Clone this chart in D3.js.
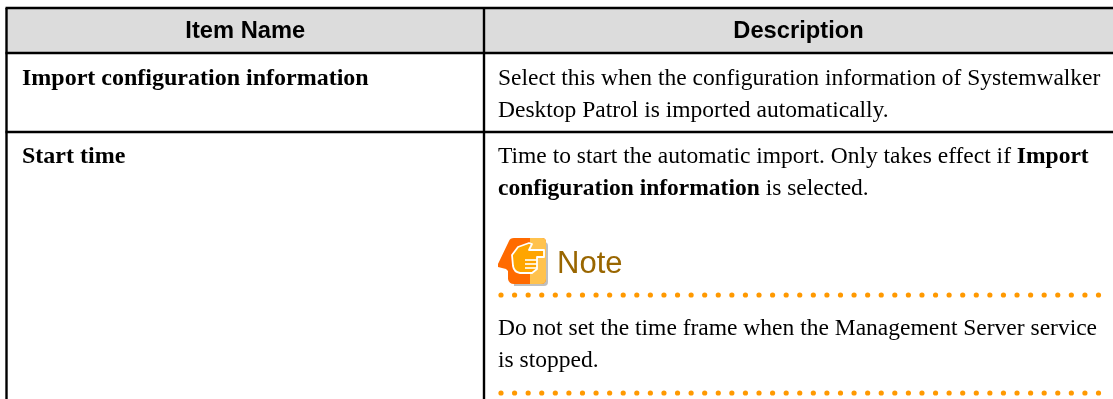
<!DOCTYPE html>
<html><head><meta charset="utf-8">
<script src="https://cdn.jsdelivr.net/npm/d3@7/dist/d3.min.js"></script>
<style>html,body{margin:0;padding:0;background:#fff}svg{display:block;filter:blur(0.35px)}</style>
</head><body><svg id="c" width="1113" height="399"></svg>
<script>
const headers = ["Item Name","Description"];
const rowNames = ["Import configuration information","Start time"];
const rowBaselines = [85,163];
const descLines = [
 {y:85,parts:[["Select this when the configuration information of Systemwalker",400]]},
 {y:117,parts:[["Desktop Patrol is imported automatically.",400]]},
 {y:163,parts:[["Time to start the automatic import. Only takes effect if ",400],["Import",700]]},
 {y:195,parts:[["configuration information",700],[" is selected.",400]]},
 {y:335,parts:[["Do not set the time frame when the Management Server service",400]]},
 {y:367,parts:[["is stopped.",400]]}
];
const noteLabel = "Note";
const rowLines = [8,53,132];
const colLines = [6.5,484,1113];
const dotRows = [295,393];
const dotCount = 45;
const svg = d3.select("#c");
const serif = "'Liberation Serif',serif", sans = "'Liberation Sans',sans-serif";
const x = d3.scaleLinear().domain([0,dotCount-1]).range([501,1098.5]);
svg.append("rect").attr("x",colLines[0]).attr("y",rowLines[0]).attr("width",1113-colLines[0]).attr("height",rowLines[1]-rowLines[0]).attr("fill","#dcdcdc");
svg.append("g").selectAll("line").data(rowLines).join("line").attr("x1",colLines[0]-1).attr("x2",1113).attr("y1",d=>d).attr("y2",d=>d).attr("stroke","#000").attr("stroke-width",2.4);
svg.append("g").selectAll("line").data(colLines.slice(0,2)).join("line").attr("x1",d=>d).attr("x2",d=>d).attr("y1",rowLines[0]).attr("y2",399).attr("stroke","#000").attr("stroke-width",2.4);
svg.append("g").selectAll("text").data(headers).join("text").attr("x",(d,i)=>(colLines[i]+colLines[i+1])/2).attr("y",38).attr("text-anchor","middle").attr("font-family",sans).attr("font-weight",700).attr("font-size",23.7).text(d=>d);
svg.append("g").selectAll("text").data(rowNames).join("text").attr("x",22).attr("y",(d,i)=>rowBaselines[i]).attr("font-family",serif).attr("font-weight",700).attr("font-size",24).text(d=>d);
const t = svg.append("g").selectAll("text").data(descLines).join("text").attr("x",498).attr("y",d=>d.y).attr("font-family",serif).attr("font-size",23.5).style("white-space","pre");
t.selectAll("tspan").data(d=>d.parts).join("tspan").attr("font-weight",d=>d[1]).text(d=>d[0]);
// note icon
const g = svg.append("g").attr("transform","translate(498,238)");
g.append("path").attr("d","M14 4 H46 Q50 4 50 8 V44 Q50 48 46 48 H16 Z").attr("fill","#8a8a8a").attr("opacity",.55);
g.append("path").attr("d","M0 26 L11 3 Q12 0 16 0 H44 Q48 0 48 4 V41 Q48 46 43 46 H16 Q11 46 10 41 V33 L8 31 L0 29 Z").attr("fill","#ff6a00");
g.append("path").attr("d","M32 0 H44 Q48 0 48 4 V41 Q48 46 43 46 H32 Z").attr("fill","#ffc24d");
g.append("path").attr("d","M14 17 L20 9 L31 5 L34 6 L31 12 H46 V19 H39 V31 L34 35 H22 Q16 34 15 28 Z").attr("fill","#ffa500").attr("stroke","#fff").attr("stroke-width",1.8).attr("stroke-linejoin","round");
g.selectAll("line").data([22,26,30]).join("line").attr("x1",27).attr("x2",39).attr("y1",d=>d).attr("y2",d=>d).attr("stroke","#fff").attr("stroke-width",1.6);
svg.append("text").attr("x",557).attr("y",273).attr("font-family",sans).attr("font-size",31).attr("fill","#996600").text(noteLabel);
svg.append("g").selectAll("g").data(dotRows).join("g").selectAll("circle").data(d=>d3.range(dotCount).map(i=>({i,y:d}))).join("circle").attr("cx",d=>x(d.i)).attr("cy",d=>d.y).attr("r",2.6).attr("fill","#f90");
</script></body></html>
